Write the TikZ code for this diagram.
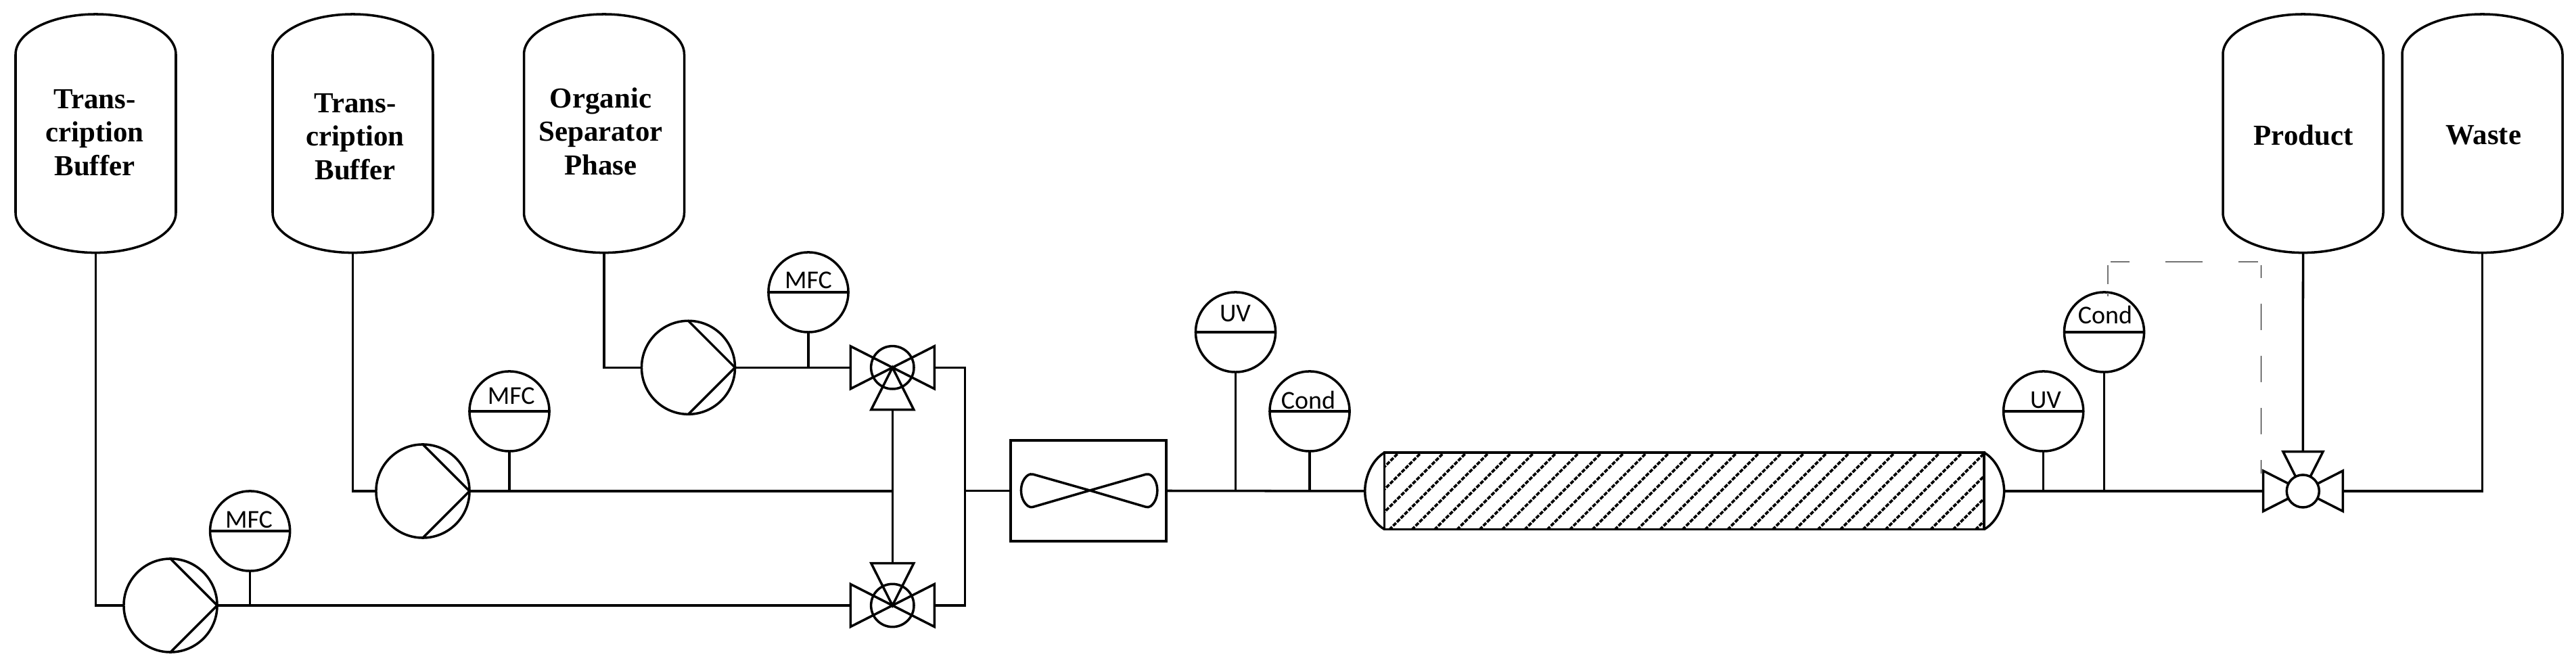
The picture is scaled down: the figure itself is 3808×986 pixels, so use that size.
\documentclass[tikz,border=0pt]{standalone}
\usepackage{fontspec}
\setmainfont{Liberation Serif}
\setsansfont{Carlito}
\tikzset{
	pipe/.style={line width=1pt},
	signal/.style={line width=0.5pt,black!55},
	signalthin/.style={line width=0.35pt,black},
	hatch/.style={line width=1.05pt,dash pattern=on 0.06cm off 0.02cm},
	instr/.style={draw,circle,line width=1pt,minimum size=1.18cm,inner sep=0pt,outer sep=0pt},
	pumpbody/.style={draw,circle,line width=1pt,minimum size=1.38cm,inner sep=0pt,outer sep=0pt},
	instrlabel/.style={font=\sffamily\fontsize{10.8}{12}\selectfont,inner sep=0pt},
	tanklabel/.style={font=\bfseries\fontsize{12.2}{14.1}\selectfont,align=center,inner sep=0pt},
	mixvalve/.pic={
		\draw[pipe,line join=miter] (-62,-31.5) -- (62,31.5) -- (62,-31.5) -- (-62,31.5) -- cycle;
		\draw[pipe] (0,0) circle[radius=31.7];
		\draw[pipe] (0,0) -- (-31.5,62.4) -- (31.5,62.4) -- cycle;
		\coordinate (-left) at (-62,0);
		\coordinate (-right) at (62,0);
		\coordinate (-stem) at (0,62.4);
	},
}
\begin{document}
\begin{tikzpicture}[x=0.01cm,y=-0.01cm]
	\useasboundingbox (0,0) rectangle (3808,986);

	%tanks
	\foreach \name/\cx in {tankA/141.5,tankB/521.5,tankC/893,tankD/3404.5,tankE/3669.5}{
		\draw[pipe] (\cx-118.5,80.5) .. controls (\cx-118.5,47.6) and (\cx-65.4,21) .. (\cx,21)
			.. controls (\cx+65.4,21) and (\cx+118.5,47.6) .. (\cx+118.5,80.5) -- (\cx+118.5,314.5)
			.. controls (\cx+118.5,347.4) and (\cx+65.4,373.6) .. (\cx,373.6)
			.. controls (\cx-65.4,373.6) and (\cx-118.5,347.4) .. (\cx-118.5,314.5) -- cycle;
		\coordinate (\name) at (\cx,373.6);
	}
	\node[tanklabel] (labelA) at (140,196) {Trans-\\cription\\Buffer};
	\node[tanklabel] (labelB) at (525,202) {Trans-\\cription\\Buffer};
	\node[tanklabel] (labelC) at (888,194) {Organic\\Separator\\Phase};
	\node[tanklabel] (labelD) at (3405,200) {Product};
	\node[tanklabel] (labelE) at (3671,200) {Waste};

	%pumps
	\node[pumpbody] (pumpA) at (252,895) {};
	\node[pumpbody] (pumpB) at (625,726) {};
	\node[pumpbody] (pumpC) at (1017.5,543.3) {};
	\foreach \name in {pumpA,pumpB,pumpC}{
		\draw[pipe] (\name.north) -- (\name.east) -- (\name.south);
	}

	%instruments
	\node[instr] (mfcA) at (369.6,785) {};
	\node[instr] (mfcB) at (753,608) {};
	\node[instr] (mfcC) at (1195,432) {};
	\node[instr] (uvA) at (1826.5,491) {};
	\node[instr] (condA) at (1936,608) {};
	\node[instr] (uvB) at (3020.7,608) {};
	\node[instr] (condB) at (3110.5,491) {};
	\foreach \name in {mfcA,mfcB,mfcC,uvA,condA,uvB,condB}{
		\draw[pipe] (\name.west) -- (\name.east);
	}
	\node[instrlabel] (textA) at (368,768) {MFC};
	\node[instrlabel] (textB) at (755.7,585) {MFC};
	\node[instrlabel] (textC) at (1195,414.6) {MFC};
	\node[instrlabel] (textD) at (1826,463) {UV};
	\node[instrlabel] (textE) at (1934,591) {Cond};
	\node[instrlabel] (textF) at (3024,591) {UV};
	\node[instrlabel] (textG) at (3112,465) {Cond};

	%valves
	\pic (valveA) at (1319.3,543.3) {mixvalve};
	\pic[yscale=-1] (valveB) at (1319.3,895) {mixvalve};
	\draw[pipe] (3345.7,696) -- (3463.3,755.7) -- (3463.3,696) -- (3345.7,755.7) -- cycle;
	\draw[pipe] (3404.3,726) -- (3375,667.7) -- (3434,667.7) -- cycle;
	\node[draw,circle,pipe,fill=white,minimum size=0.48cm,inner sep=0pt,outer sep=0pt] (valveC) at (3404.3,726) {};
	\coordinate (valveCleft) at (3345.7,726);
	\coordinate (valveCright) at (3463.3,726);
	\coordinate (valveCstem) at (3404.3,667.7);

	%mixer
	\node[draw,pipe,minimum width=2.3cm,minimum height=1.49cm,inner sep=0pt,outer sep=0pt] (mixer) at (1609,725.5) {};
	\draw[pipe,rounded corners=0.04cm] (1611,725) -- (1523,700) .. controls (1506,712) and (1506,738) .. (1523,750.6) -- (1611,725)
		-- (1698,700) .. controls (1714,712) and (1714,738) .. (1698,750.6) -- cycle;

	%column
	\begin{scope}
		\clip (2046.7,669) rectangle (2933,782.5);
		\foreach \s in {0,...,30}{
			\draw[hatch] (2703.4+33.33*\s-800,800) -- (2703.4+33.33*\s-600,600);
		}
	\end{scope}
	\draw[pipe] (2046.7,669) rectangle (2933,782.5);
	\draw[pipe] (2046.7,669) .. controls (2028,680) and (2017.7,705) .. (2017.7,726) .. controls (2017.7,747) and (2028,772) .. (2046.7,782.5);
	\draw[pipe] (2933,669) .. controls (2952,680) and (2962.6,705) .. (2962.6,726) .. controls (2962.6,747) and (2952,772) .. (2933,782.5);
	\coordinate (columnin) at (2017.7,726);
	\coordinate (columnout) at (2962.6,726);

	%lines
	\draw[pipe] (tankA) |- (pumpA.west);
	\draw[pipe] (tankB) |- (pumpB.west);
	\draw[pipe] (tankC) |- (pumpC.west);
	\draw[pipe] (pumpA.east) -- (valveB-left);
	\draw[pipe] (pumpC.east) -- (valveA-left);
	\draw[pipe] (valveA-stem) -- (valveB-stem);
	\draw[pipe] (pumpB.east) -- (pumpB.east -| valveA-stem);
	\draw[pipe] (valveA-right) -| (1426.7,895) -- (valveB-right);
	\draw[pipe] (1426.7,725.5) -- (mixer.west);
	\draw[pipe] (mixer.east) -- (columnin);
	\draw[pipe] (columnout) -- (valveCleft);
	\draw[pipe] (tankD) -- (valveCstem);
	\draw[pipe] (tankE) |- (valveCright);
	\draw[pipe] (mfcA.south) -- (mfcA.south |- pumpA.east);
	\draw[pipe] (mfcB.south) -- (mfcB.south |- pumpB.east);
	\draw[pipe] (mfcC.south) -- (mfcC.south |- pumpC.east);
	\draw[pipe] (uvA.south) -- (uvA.south |- mixer.east);
	\draw[pipe] (condA.south) -- (condA.south |- mixer.east);
	\draw[pipe] (uvB.south) -- (uvB.south |- columnout);
	\draw[pipe] (condB.south) -- (condB.south |- columnout);

	%control signal
	\coordinate (signalA) at (3116,391.7);
	\coordinate (signalB) at (3116,438);
	\coordinate (signalC) at (3120,386.7);
	\coordinate (signalD) at (3338,386.7);
	\coordinate (signalE) at (3342.3,391.7);
	\coordinate (signalF) at (3342.3,700);
	\draw[signal,dash pattern=on 0.283cm off 0.13cm] (signalA) -- (signalB);
	\draw[signal,dash pattern=on 0.55cm off 0.53cm,dash phase=0.27cm] (signalC) -- (signalD);
	\draw[signalthin,dash pattern=on 0.39cm off 0.38cm,dash phase=0.2cm] (signalE) -- (signalF);
\end{tikzpicture}
\end{document}
